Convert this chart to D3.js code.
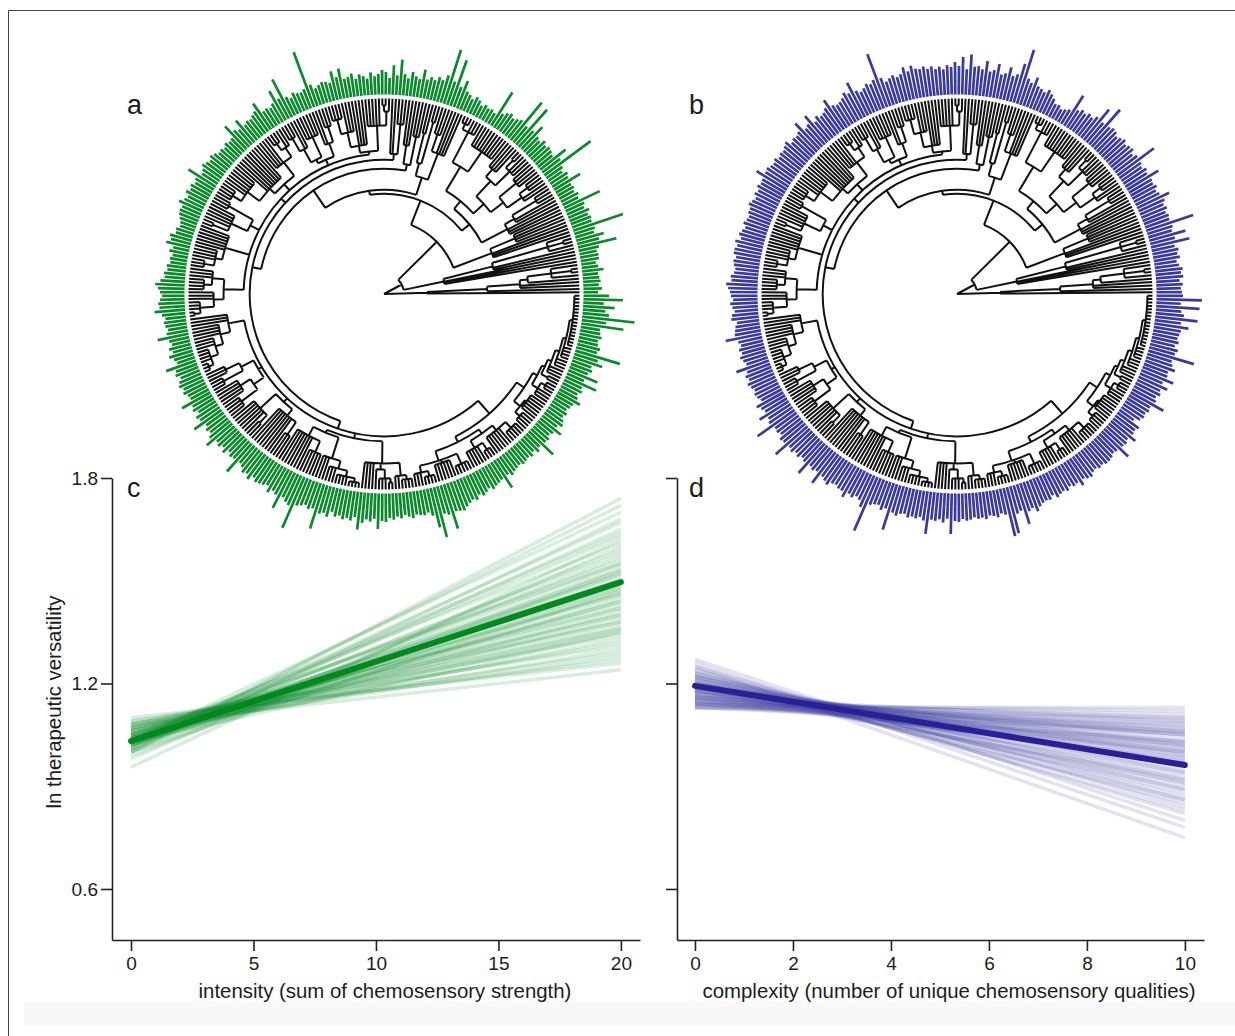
<!DOCTYPE html>
<html>
<head>
<meta charset="utf-8">
<script src="https://cdnjs.cloudflare.com/ajax/libs/d3/7.8.5/d3.min.js"></script>
<style>
  html, body { margin: 0; padding: 0; background: #fff; overflow: hidden; }
  text { font-family: "Liberation Sans", Arial, sans-serif; fill: #1c1c1c; }
</style>
</head>
<body>
<div id="chart"></div>
<script>
// bar lengths around the fan, one per species, counter-clockwise from east
const intensityBars = [
  14,18,15,17,16,15,21,16,14,18, 18,17,20,39,22,28,19,21,52,20,
  21,19,22,18,20,39,17,19,16,18, 17,30,18,20,16,19,57,22,32,18,
  20,21,19,22,18,20,30,21,46,20, 48,22,20,18,21,19,16,39,12,14,
  13,15,12,16,18,14,17,19,29,21, 48,24,56,28,22,24,20,22,19,28,
  18,20,24,17,21,35,19,29,16,22, 24,20,18,22,16,19,21,17,23,20,
  19,30,22,29,18,20,21,19,17,22, 58,20,18,19,21,17,20,42,22,33,
  21,18,20,19,31,24,22,20,21,19, 28,19,22,31,18,17,19,16,18,17,
  20,22,19,21,23,20,18,32,21,19, 22,20,23,19,21,25,20,21,20,18,
  16,15,18,17,22,20,24,16,19,15, 17,16,19,18,21,20,24,29,26,24,
  22,24,26,25,30,23,20,22,21,19, 21,31,20,18,22,19,24,20,18,31,
  22,24,20,23,25,22,24,21,20,32, 22,24,20,25,23,33,21,24,22,26,
  33,23,25,22,26,21,24,23,37,22, 24,28,26,30,25,28,27,26,24,30,
  26,28,41,27,30,32,55,29,27,25, 28,26,46,29,27,30,24,28,26,29,
  27,29,25,37,30,26,28,25,35,27, 28,24,26,23,25,22,24,26,23,24,
  25,23,27,40,51,28,30,46,29,30, 31,28,26,24,26,22,25,23,21,24,
  22,21,20,32,19,22,20,19,18,20, 19,18,20,17,21,18,33,19,20,17,
  19,26,18,22,20,17,19,16,18,19, 25,20,18,21,19,33,18,31,19,22,
  20,30,24,46,21,23,20,19,22,20, 19,42,24,52,26,22,31,20,39,25
];

const complexityBars = [
  25,24,26,23,27,25,27,24,22,26, 24,26,23,39,25,37,24,26,49,25,
  26,24,27,25,28,35,26,24,27,25, 26,36,25,27,24,26,45,27,24,28,
  27,25,28,26,24,27,28,26,46,25, 39,26,22,24,21,23,20,35,16,14,
  12,15,14,18,21,24,20,22,23,31, 24,27,56,40,28,25,33,26,24,34,
  27,25,35,26,29,28,40,25,37,28, 32,27,29,25,28,26,29,27,30,28,
  29,33,28,33,27,25,28,26,24,29, 56,30,27,29,26,24,27,38,28,31,
  27,25,24,26,35,28,25,24,27,23, 34,26,24,35,27,25,26,24,29,27,
  25,26,24,27,25,26,28,27,35,26, 25,27,24,26,23,25,27,24,24,22,
  23,25,22,24,26,23,28,25,27,27, 24,26,25,23,24,27,26,31,29,27,
  26,24,27,25,23,26,27,22,24,25, 26,36,24,22,25,23,26,24,22,34,
  24,27,25,28,26,24,26,25,23,30, 27,25,34,26,28,45,26,27,25,29,
  28,42,27,29,26,28,25,27,39,26, 28,26,38,27,29,31,27,26,28,28,
  33,27,29,26,28,34,58,28,26,25, 29,26,47,28,30,27,26,29,27,28,
  26,29,42,27,28,26,29,25,40,27, 28,25,27,26,24,26,25,27,24,25,
  27,24,26,49,47,28,26,41,29,27, 32,28,26,25,26,23,27,25,24,26,
  23,25,24,29,24,26,27,24,23,25, 24,26,26,25,23,24,36,25,26,24,
  31,25,24,26,17,22,24,23,25,24, 37,26,24,27,25,31,24,34,26,25,
  31,27,25,47,26,28,24,27,25,26, 27,34,26,42,28,25,43,24,45,26
];

// tree clades: [node depth, ...children], a plain number is that many tips
const cladeA = [43, 1, [103, 1, [136, 2, [144, 1, [168, 1, [188, 2], 1]]]]];
const cladeB1 = [61, 3, [112, 2, [170, 1, [186, 2], 1]]];
const cladeB2a = [115, 3, [142, 4]];
const cladeN2 = [110,
  [139, 3, [150, 2, [178, 3]]],
  [120,
    [134, [150, [168, 2, [178, 3]], [172, 4]], [155, [175, 3, [185, 2]], [165, 4]]],
    [148, [172, 9], [155, [182, 3, [188, 3]]]]]];
const clade71 = [122, [150, 4, [168, 3]], [135, [178, 1, [186, 1]], [165, 2]]];
const cladeF1 = [131, [160, 2, [178, 1]], [150, 3]];
const cladeF2 = [140, [170, 3], 2];
const cladeG1 = [143, [168, [182, 1, [188, 2]], 5], [150, 4, [165, 3, [180, 4]]]];
const cladeG2 = [146, [160, [176, 3], 2], [150, [172, 5], [165, 2, [180, 3]]]];
const cladeG3 = [148, [165, [176, 2, [184, 3]], 4], [155, 8, [170, 6, [180, 4]]]];
const cladeG4 = [150, [178, 3], [168, 5, [184, 2]]];
const cladeG5 = [165, 6, [172, 4, [182, 3]]];
const cladeG6 = [160, [172, 3, [180, 4]], [170, 3, [184, 3, [190, 2]]]];
const cladeH1 = [158, 3, [168, 4, [176, 3, [184, 4, [189, 3]]]]];
const cladeH2 = [146, [160, [175, 3], [182, 3]], [158, [170, 5], [178, 4]]];
const cladeH3 = [147, [168, 6, [178, 2]], [155, 7, [170, 3]]];
const cladeH4 = [150, [160, 7, [172, 5]], [172, 3, [180, 3, [186, 4, [190, 4]]]]];
const cladeBot = [169, 4, [175, 1, [184, 3, [188, 2]]], [182, 2, [186, 4]]];
const cladeR1 = [165, [175, [182, 3, [187, 4]], [178, 6], [186, 5]], [170, [178, 5, [186, 3]], [176, 6, [184, 5]]]];
const cladeR2 = [168,
  [176, [182, 4], [178, 6]],
  [173, [180, 3, [185, 3]],
    [176, [183, 2], [180, 3, [184, 3, [187, 4, [190, 16]]]]]]];

const cladeJ = [140, cladeG1, cladeG2, cladeG3, cladeG4, cladeG5, cladeG6];
const cladeY = [142, cladeH1, cladeH2, cladeH3, [147, cladeH4, cladeBot], [159, cladeR1, cladeR2]];
const cladeI = [134, cladeF2, cladeJ, cladeY];
const cladeN3 = [125, cladeF1, cladeI];
const treeRoot = [0, cladeA, [20, cladeB1, [74, cladeB2a, [100, cladeN2, [104, clade71, cladeN3]]]]];

// posterior draws, value at the left and right end of each line
const intensityStart = [1.00,1.01,1.03,1.00,1.02,1.01,1.03,1.02,1.04,0.98,1.02,1.03,1.01,1.04,1.02,1.05,1.00,1.03,1.04,1.02,
  1.01,1.05,1.03,1.04,1.02,1.05,1.03,1.04,1.06,1.02,1.05,1.03,1.06,1.04,1.07,1.03,1.05,1.07,1.04,1.06,
  1.08,1.05,1.07,1.04,1.06,1.08,1.05,1.07,1.09,1.06,1.08,1.07,1.09,1.10,1.08,0.956,0.99,1.00,1.03];
const intensityEnd = [1.74,1.72,1.70,1.68,1.67,1.65,1.64,1.63,1.61,1.60,1.59,1.58,1.57,1.56,1.55,1.55,1.54,1.53,1.52,1.52,
  1.51,1.50,1.50,1.49,1.48,1.48,1.47,1.46,1.46,1.45,1.44,1.44,1.43,1.42,1.42,1.41,1.40,1.40,1.39,1.38,
  1.38,1.37,1.36,1.36,1.35,1.34,1.33,1.32,1.31,1.30,1.29,1.28,1.27,1.26,1.24,1.62,1.53,1.47,1.35];
const complexityStart = [1.25,1.27,1.26,1.24,1.25,1.23,1.24,1.22,1.23,1.22,1.21,1.23,1.21,1.22,1.20,1.21,1.20,1.22,1.19,1.20,
  1.21,1.19,1.18,1.20,1.19,1.18,1.20,1.18,1.19,1.17,1.18,1.19,1.17,1.16,1.18,1.17,1.16,1.18,1.15,1.17,
  1.16,1.15,1.17,1.16,1.14,1.16,1.15,1.14,1.15,1.14,1.16,1.13,1.15,1.14,1.13,1.14,1.13,1.14,1.13];
const complexityEnd = [0.75,0.80,0.78,0.82,0.84,0.83,0.86,0.85,0.87,0.88,0.86,0.89,0.90,0.91,0.89,0.92,0.93,0.94,0.91,0.95,
  0.96,0.94,0.92,0.97,0.98,0.96,0.99,0.99,1.00,0.97,1.01,1.02,1.00,0.98,1.03,1.02,1.01,1.04,1.00,1.05,
  1.03,1.02,1.06,1.05,1.03,1.07,1.06,1.05,1.08,1.07,1.09,1.06,1.10,1.09,1.08,1.11,1.10,1.12,1.13];

// mean fits
const intensityMean = [1.032, 1.496];
const complexityMean = [1.193, 0.962];

const yTicks = [0.6, 1.2, 1.8];
const intensityTicks = [0, 5, 10, 15, 20];
const complexityTicks = [0, 2, 4, 6, 8, 10];

const GREEN = '#0a8a2a';
const BLUE = '#3a3a9e';
const AXIS = '#222';

const svg = d3.select('#chart').append('svg')
  .attr('width', 1235)
  .attr('height', 1036)
  .style('display', 'block');

// page frame and the pale strip along the bottom
svg.append('rect').attr('x', 24).attr('y', 1001).attr('width', 1211).attr('height', 25).attr('fill', '#f8f8f8');
svg.append('path')
  .attr('d', 'M8.5,1036V10.5H1235')
  .attr('fill', 'none')
  .attr('stroke', '#444')
  .attr('stroke-width', 1);

function buildTree() {
  const root = d3.hierarchy(treeRoot, d => {
    if (!Array.isArray(d)) return null;
    return d.slice(1).flatMap(c => typeof c === 'number' ? d3.range(c).map(() => 'tip') : [c]);
  });
  const leaves = root.leaves();
  const angle = d3.scaleLinear().domain([0, leaves.length]).range([0, 2 * Math.PI]);
  leaves.forEach((leaf, i) => {
    leaf.angle = angle(i + 0.5);
    leaf.depthValue = 195;
  });
  root.eachAfter(node => {
    if (!node.children) return;
    node.depthValue = node.data[0];
    node.angle = (node.children[0].angle + node.children[node.children.length - 1].angle) / 2;
  });
  return { root, leaves, angle };
}

const tree = buildTree();

function drawFan(cx, cy, bars, color) {
  const g = svg.append('g').attr('transform', `translate(${cx},${cy})`);
  const radius = d3.scaleLinear().domain([0, 195]).range([0, 195.5]);
  const barLength = d3.scaleLinear().domain([0, 60]).range([0, 60]);
  const px = (r, a) => [r * Math.cos(a), -r * Math.sin(a)];

  const path = d3.path();
  tree.root.each(node => {
    if (node.parent) {
      const [x0, y0] = px(radius(node.parent.depthValue), node.angle);
      const [x1, y1] = px(radius(node.depthValue), node.angle);
      path.moveTo(x0, y0);
      path.lineTo(x1, y1);
    }
    if (node.children && node.depthValue > 0) {
      const r = radius(node.depthValue);
      const a0 = node.children[0].angle;
      const a1 = node.children[node.children.length - 1].angle;
      const [sx, sy] = px(r, a0);
      path.moveTo(sx, sy);
      path.arc(0, 0, r, -a0, -a1, true);
    }
  });
  g.append('path')
    .attr('d', path.toString())
    .attr('fill', 'none')
    .attr('stroke', '#111')
    .attr('stroke-width', 2);

  g.selectAll('.bar')
    .data(bars)
    .enter()
    .append('line')
    .attr('class', 'bar')
    .attr('x1', (d, i) => px(199.5, tree.angle(i + 0.5))[0])
    .attr('y1', (d, i) => px(199.5, tree.angle(i + 0.5))[1])
    .attr('x2', (d, i) => px(200 + barLength(d), tree.angle(i + 0.5))[0])
    .attr('y2', (d, i) => px(200 + barLength(d), tree.angle(i + 0.5))[1])
    .attr('stroke', color)
    .attr('stroke-width', 2.7);
}

function drawLines(cfg) {
  const x = d3.scaleLinear().domain(cfg.xDomain).range(cfg.xRange);
  const y = d3.scaleLinear().domain([0.451, 1.8]).range([940, 478]);
  const xEnds = [cfg.xTicks[0], cfg.xTicks[cfg.xTicks.length - 1]];
  const g = svg.append('g');

  g.selectAll('.draw')
    .data(cfg.start)
    .enter()
    .append('line')
    .attr('class', 'draw')
    .attr('x1', x(xEnds[0]))
    .attr('x2', x(xEnds[1]))
    .attr('y1', d => y(d))
    .attr('y2', (d, i) => y(cfg.end[i]))
    .attr('stroke', cfg.color)
    .attr('stroke-width', 3.5)
    .attr('opacity', cfg.opacity);

  g.append('line')
    .attr('x1', x(xEnds[0]))
    .attr('x2', x(xEnds[1]))
    .attr('y1', y(cfg.mean[0]))
    .attr('y2', y(cfg.mean[1]))
    .attr('stroke', cfg.meanColor)
    .attr('stroke-width', 6)
    .attr('stroke-linecap', 'round');

  const xAxis = d3.axisBottom(x).tickValues(cfg.xTicks).tickSize(11).tickSizeOuter(0).tickPadding(6);
  const yAxis = d3.axisLeft(y).tickValues(yTicks).tickSize(11).tickSizeOuter(0).tickPadding(3)
    .tickFormat(cfg.yLabels ? d3.format('.1f') : '');

  const ax = g.append('g').attr('transform', 'translate(0,940)').call(xAxis);
  const ay = g.append('g').attr('transform', `translate(${cfg.xRange[0]},0)`).call(yAxis);
  [ax, ay].forEach(a => {
    a.selectAll('path, line').attr('stroke', AXIS).attr('stroke-width', 1.6);
    a.selectAll('text').attr('fill', AXIS).style('font-size', '19px');
  });

  svg.append('text')
    .attr('x', cfg.labelX)
    .attr('y', 998)
    .attr('text-anchor', 'middle')
    .style('font-size', '20.4px')
    .text(cfg.label);
}

drawFan(384, 294, intensityBars, GREEN);
drawFan(957, 294, complexityBars, BLUE);

drawLines({
  xDomain: [-0.776, 20.78], xRange: [112, 640], xTicks: intensityTicks,
  start: intensityStart, end: intensityEnd, mean: intensityMean,
  color: '#0a8a2a', meanColor: '#008a1e', opacity: 0.15, yLabels: true,
  label: 'intensity (sum of chemosensory strength)', labelX: 385
});
drawLines({
  xDomain: [-0.367, 10.39], xRange: [677, 1204], xTicks: complexityTicks,
  start: complexityStart, end: complexityEnd, mean: complexityMean,
  color: '#3a3a9e', meanColor: '#2a1f96', opacity: 0.14, yLabels: false,
  label: 'complexity (number of unique chemosensory qualities)', labelX: 949
});

svg.append('text')
  .attr('transform', 'translate(61,702) rotate(-90)')
  .attr('text-anchor', 'middle')
  .style('font-size', '20.4px')
  .text('ln therapeutic versatility');

const panelLetters = [['a', 127, 114], ['b', 689, 114], ['c', 127, 497], ['d', 689, 497]];
svg.selectAll('.letter')
  .data(panelLetters)
  .enter()
  .append('text')
  .attr('class', 'letter')
  .attr('x', d => d[1])
  .attr('y', d => d[2])
  .style('font-size', '27px')
  .text(d => d[0]);
</script>
</body>
</html>
